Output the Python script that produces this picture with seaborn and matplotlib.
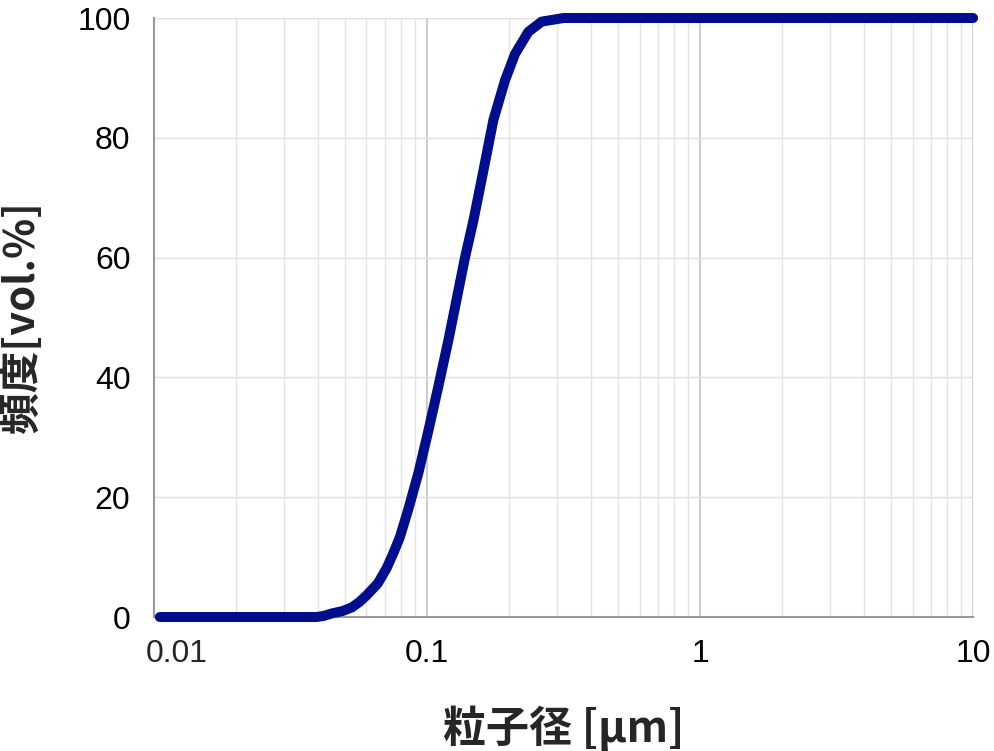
import numpy as np
import pandas as pd
import matplotlib
matplotlib.use("Agg")
import matplotlib.pyplot as plt
import seaborn as sns
from matplotlib.ticker import FixedLocator, NullFormatter, FixedFormatter, LogLocator

# -------------------------------
# DATA
# -------------------------------
particle_size = [0.0105, 0.02, 0.03, 0.0394, 0.042, 0.0448, 0.049, 0.053, 0.0565,
                 0.060, 0.066, 0.0712, 0.0755, 0.0796, 0.0854, 0.0929, 0.101,
                 0.110, 0.1197, 0.1377, 0.148, 0.1608, 0.175, 0.193, 0.21,
                 0.235, 0.263, 0.316, 1.0, 10.0]
cumulative = [0.0, 0.0, 0.0, 0.0, 0.2, 0.6, 1.0, 1.6, 2.5,
              3.6, 5.6, 8.2, 10.8, 13.4, 18.0, 24.0, 31.0,
              38.5, 46.2, 60.0, 66.3, 74.5, 83.0, 89.6, 94.0,
              97.7, 99.4, 100.0, 100.0, 100.0]

x_ticks = [0.01, 0.1, 1, 10]
x_tick_labels = ["0.01", "0.1", "1", "10"]
y_ticks = [0, 20, 40, 60, 80, 100]

x_label = "粒子径 [μm]"
y_label = "頻度[vol.%]"

df = pd.DataFrame({"size": particle_size, "cum": cumulative})

# -------------------------------
# STYLE
# -------------------------------
sns.set_style("white")
plt.rcParams["font.family"] = ["Liberation Sans", "Noto Sans CJK JP", "DejaVu Sans"]

fig = plt.figure(figsize=(9.95, 7.51), dpi=100)
ax = fig.add_axes([0.1548, 0.1784, 0.978 - 0.1548, 0.976 - 0.1784])

sns.lineplot(data=df, x="size", y="cum", ax=ax, color="#000e8e",
             linewidth=7.2, solid_capstyle="round", solid_joinstyle="round",
             zorder=5, clip_on=False)

ax.set_xscale("log")
ax.set_xlim(0.01, 10)
ax.set_ylim(0, 100)

# grid
ax.xaxis.set_major_locator(FixedLocator(x_ticks))
ax.xaxis.set_major_formatter(FixedFormatter(["", "0.1", "1", "10"]))
ax.xaxis.set_minor_locator(LogLocator(base=10, subs=np.arange(2, 10)))
ax.xaxis.set_minor_formatter(NullFormatter())
ax.set_yticks(y_ticks)

ax.grid(which="major", axis="x", color="#c4c4c4", linewidth=1.2)
ax.grid(which="minor", axis="x", color="#e4e4e4", linewidth=1.0)
ax.grid(which="major", axis="y", color="#e0e0e0", linewidth=1.0)
ax.set_axisbelow(True)

for s in ["top", "right"]:
    ax.spines[s].set_visible(False)
for s in ["left", "bottom"]:
    ax.spines[s].set_color("#9a9a9a")
    ax.spines[s].set_linewidth(1.5)

ax.tick_params(axis="both", which="both", length=0, labelsize=23, colors="black")
ax.tick_params(axis="x", pad=16)
ax.tick_params(axis="y", pad=17)

# first x label sits shifted right of the axis corner
ax.annotate(x_tick_labels[0], xy=(x_ticks[0], 0), xycoords=("data", "axes fraction"),
            xytext=(16.5, -16), textcoords="offset points",
            ha="center", va="top", fontsize=23)

ax.set_xlabel(x_label, fontsize=31, fontweight="bold",
              family=["Noto Sans CJK JP", "DejaVu Sans"], labelpad=26)
ax.set_ylabel(y_label, fontsize=30, fontweight="bold",
              family=["Noto Sans CJK JP", "DejaVu Sans"])
ax.yaxis.set_label_coords(-0.135, 0.5)

fig.savefig("out.png", dpi=100)
